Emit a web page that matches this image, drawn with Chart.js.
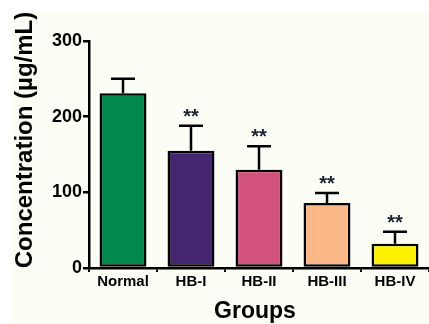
<!DOCTYPE html>
<html>
<head>
<meta charset="utf-8">
<script src="https://cdn.jsdelivr.net/npm/chart.js@4.4.1/dist/chart.umd.min.js"></script>
<style>
  html, body { margin: 0; padding: 0; background: #ffffff; }
  #wrap { width: 429px; height: 324px; position: relative; }
</style>
</head>
<body>
<div id="wrap"><canvas id="c" width="429" height="324"></canvas></div>
<script>
// Groups and measured concentrations (µg/mL)
const groups = ['Normal', 'HB-I', 'HB-II', 'HB-III', 'HB-IV'];
const meanValues = [231, 155, 130, 86, 32];
const upperError = [19, 33, 31, 13, 16];
const significance = ['', '**', '**', '**', '**'];
const barColors = ['#02874e', '#45266f', '#d2537d', '#fcb886', '#fff200'];
const yTicks = [0, 100, 200, 300];

const FONT = '"Liberation Sans", Arial, Helvetica, sans-serif';

// off-white plotting panel
const panel = {
  id: 'panel',
  beforeDraw(chart) {
    const ctx = chart.ctx;
    ctx.save();
    ctx.fillStyle = '#ffffff';
    ctx.fillRect(0, 0, chart.width, chart.height);
    ctx.fillStyle = '#fcfdf5';
    ctx.fillRect(13, 12, chart.width - 13, chart.height - 12);
    ctx.restore();
  }
};

// upward error bars with caps, significance marks, and axis titles
const extras = {
  id: 'extras',
  afterDatasetsDraw(chart) {
    const ctx = chart.ctx;
    const y = chart.scales.y;
    const meta = chart.getDatasetMeta(0);
    ctx.save();
    ctx.strokeStyle = '#000';
    ctx.lineWidth = 2.5;
    meta.data.forEach((bar, i) => {
      const x = bar.x;
      const yTop = y.getPixelForValue(meanValues[i]);
      const yErr = y.getPixelForValue(meanValues[i] + upperError[i]);
      ctx.beginPath();
      ctx.moveTo(x, yTop);
      ctx.lineTo(x, yErr);
      ctx.moveTo(x - 12, yErr);
      ctx.lineTo(x + 12, yErr);
      ctx.stroke();
      if (significance[i]) {
        ctx.fillStyle = '#1b2233';
        ctx.font = 'bold 20px ' + FONT;
        ctx.textAlign = 'center';
        ctx.textBaseline = 'alphabetic';
        ctx.fillText(significance[i], x, yErr - 3);
      }
    });
    ctx.restore();
  },
  afterDraw(chart) {
    const ctx = chart.ctx;
    ctx.save();
    ctx.fillStyle = '#000';
    ctx.textAlign = 'center';
    ctx.textBaseline = 'alphabetic';
    ctx.font = 'bold 23px ' + FONT;
    ctx.fillText('Groups', 255, 318);
    ctx.translate(32, 140);
    ctx.rotate(-Math.PI / 2);
    ctx.font = 'bold 24px ' + FONT;
    ctx.fillText('Concentration (µg/mL)', 0, 0);
    ctx.restore();
  }
};

new Chart(document.getElementById('c'), {
  type: 'bar',
  data: {
    labels: groups,
    datasets: [{
      data: meanValues,
      backgroundColor: barColors,
      borderColor: '#000',
      borderWidth: 2.5,
      borderSkipped: false,
      barPercentage: 0.69,
      categoryPercentage: 1.0
    }]
  },
  options: {
    responsive: false,
    animation: false,
    devicePixelRatio: 1,
    layout: { padding: { top: 41, right: 0, left: 0, bottom: 0 } },
    plugins: { legend: { display: false }, tooltip: { enabled: false } },
    scales: {
      x: {
        grid: { drawOnChartArea: false, drawTicks: true, tickLength: 4, color: '#000', lineWidth: 2 },
        border: { color: '#000', width: 2.5 },
        ticks: { color: '#000', font: { family: FONT, size: 15, weight: 'bold' }, padding: 1 },
        afterFit(scale) { scale.height = 56; }
      },
      y: {
        min: 0,
        max: 300,
        afterBuildTicks(scale) { scale.ticks = yTicks.map(v => ({ value: v })); },
        grid: { drawOnChartArea: false, drawTicks: true, tickLength: 6, color: '#000', lineWidth: 2.5 },
        border: { color: '#000', width: 2.5 },
        ticks: { color: '#000', font: { family: FONT, size: 18, weight: 'bold' }, padding: 1 },
        afterFit(scale) { scale.width = 89; }
      }
    }
  },
  plugins: [panel, extras]
});
</script>
</body>
</html>
